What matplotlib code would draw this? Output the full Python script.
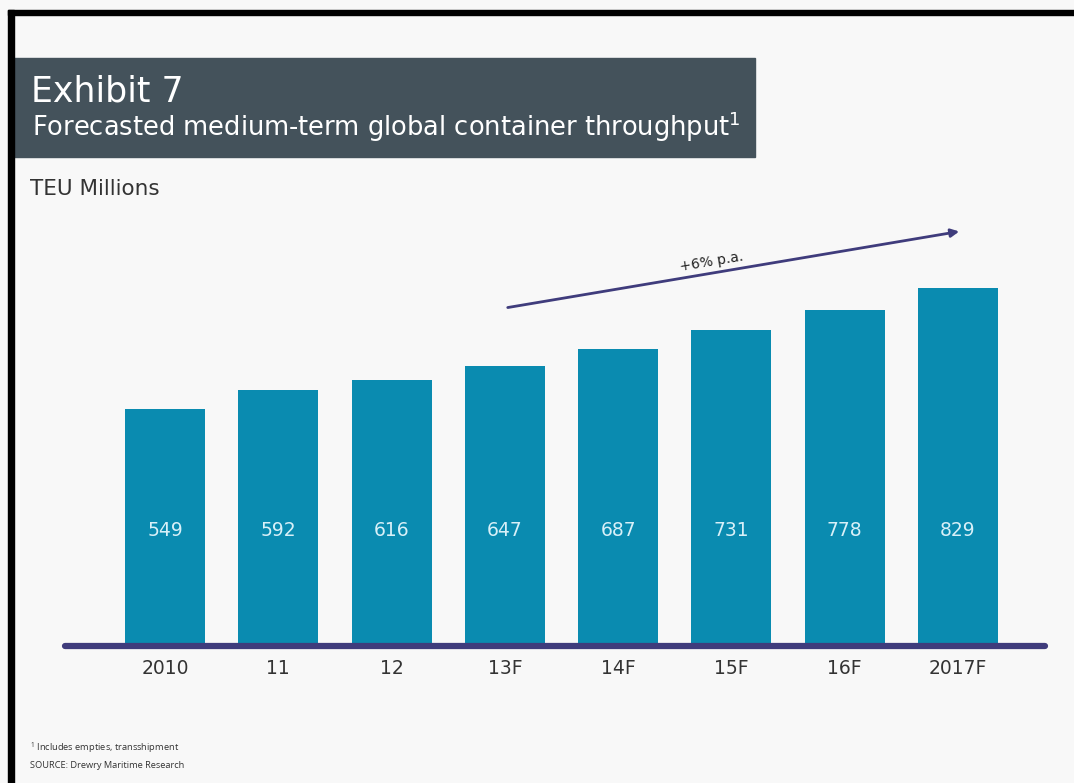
import matplotlib.pyplot as plt
import matplotlib.transforms as mtransforms
from matplotlib.patches import Rectangle

years = ['2010', '11', '12', '13F', '14F', '15F', '16F', '2017F']
teu = [549, 592, 616, 647, 687, 731, 778, 829]

bar_color = '#0a8bb0'
base_color = '#3f3c7c'
header_color = '#44525b'
bg = '#f8f8f8'

plt.rcParams['font.family'] = ['DejaVu Sans']

fig = plt.figure(figsize=(10.74, 7.83), dpi=100, facecolor=bg)
W, H = 1074, 783

def fx(px):
    return px / W

def fy(py):
    return 1 - py / H

# frame edges (top and left)
fig.patches.append(Rectangle((fx(8), fy(15)), 1, fy(10) - fy(15), transform=fig.transFigure,
                             color='black', zorder=5))
fig.patches.append(Rectangle((fx(8), 0), fx(6), fy(10), transform=fig.transFigure,
                             color='black', zorder=5))

# title banner
fig.patches.append(Rectangle((fx(14), fy(157)), fx(755 - 14), fy(58) - fy(157),
                             transform=fig.transFigure, color=header_color, zorder=1))
fig.text(fx(31), fy(102), 'Exhibit 7', color='white', fontsize=25, va='baseline', ha='left')
fig.text(fx(32), fy(136), 'Forecasted medium-term global container throughput$^{\\mathregular{1}}$',
         color='white', fontsize=18.5, va='baseline', ha='left')
fig.text(fx(30), fy(195), 'TEU Millions', color='#333333', fontsize=15.5, va='baseline', ha='left')

# axes spanning the baseline
left_px, right_px, base_px, top_px = 65, 1045, 646, 220
ax = fig.add_axes([fx(left_px), fy(base_px), fx(right_px - left_px), fy(top_px) - fy(base_px)])
ax.set_facecolor('none')
step = (958 - 165) / 7
ax.set_xlim((left_px - 165) / step, (right_px - 165) / step)
ax.set_ylim(0, (base_px - top_px) / 0.432)

x = list(range(len(years)))
ax.bar(x, teu, width=80 / step, color=bar_color, zorder=2)
ax.axhline(0, color=base_color, linewidth=4.5, solid_capstyle='round', zorder=3, clip_on=False)

for s in ax.spines.values():
    s.set_visible(False)
ax.set_yticks([])
ax.set_xticks(x)
ax.set_xticklabels(years, fontsize=13.5, color='#333333')
ax.tick_params(axis='x', length=0, pad=9)

# value labels inside bars, all at the same height
trans = mtransforms.blended_transform_factory(ax.transData, fig.transFigure)
for xi, v in zip(x, teu):
    ax.text(xi, fy(530), str(v), transform=trans, ha='center', va='center',
            color='#d8f0f8', fontsize=13.5)

# growth arrow
ax.annotate('', xy=(fx(962), fy(231)), xytext=(fx(505), fy(308)),
            xycoords='figure fraction', textcoords='figure fraction',
            arrowprops=dict(arrowstyle='-|>', color=base_color, lw=2, mutation_scale=12))
fig.text(fx(712), fy(262), '+6% p.a.', rotation=9.5, fontsize=10, color='#222222',
         ha='center', va='center', rotation_mode='anchor')

# footnotes
fig.text(fx(30), fy(748), '$^{\\mathregular{1}}$ Includes empties, transshipment',
         fontsize=6.7, color='#333333', va='center', family='Open Sans')
fig.text(fx(30), fy(765), 'SOURCE: Drewry Maritime Research', fontsize=6.7, color='#333333',
         va='center', family='Open Sans')

fig.savefig('out.png', dpi=100, facecolor=bg)
